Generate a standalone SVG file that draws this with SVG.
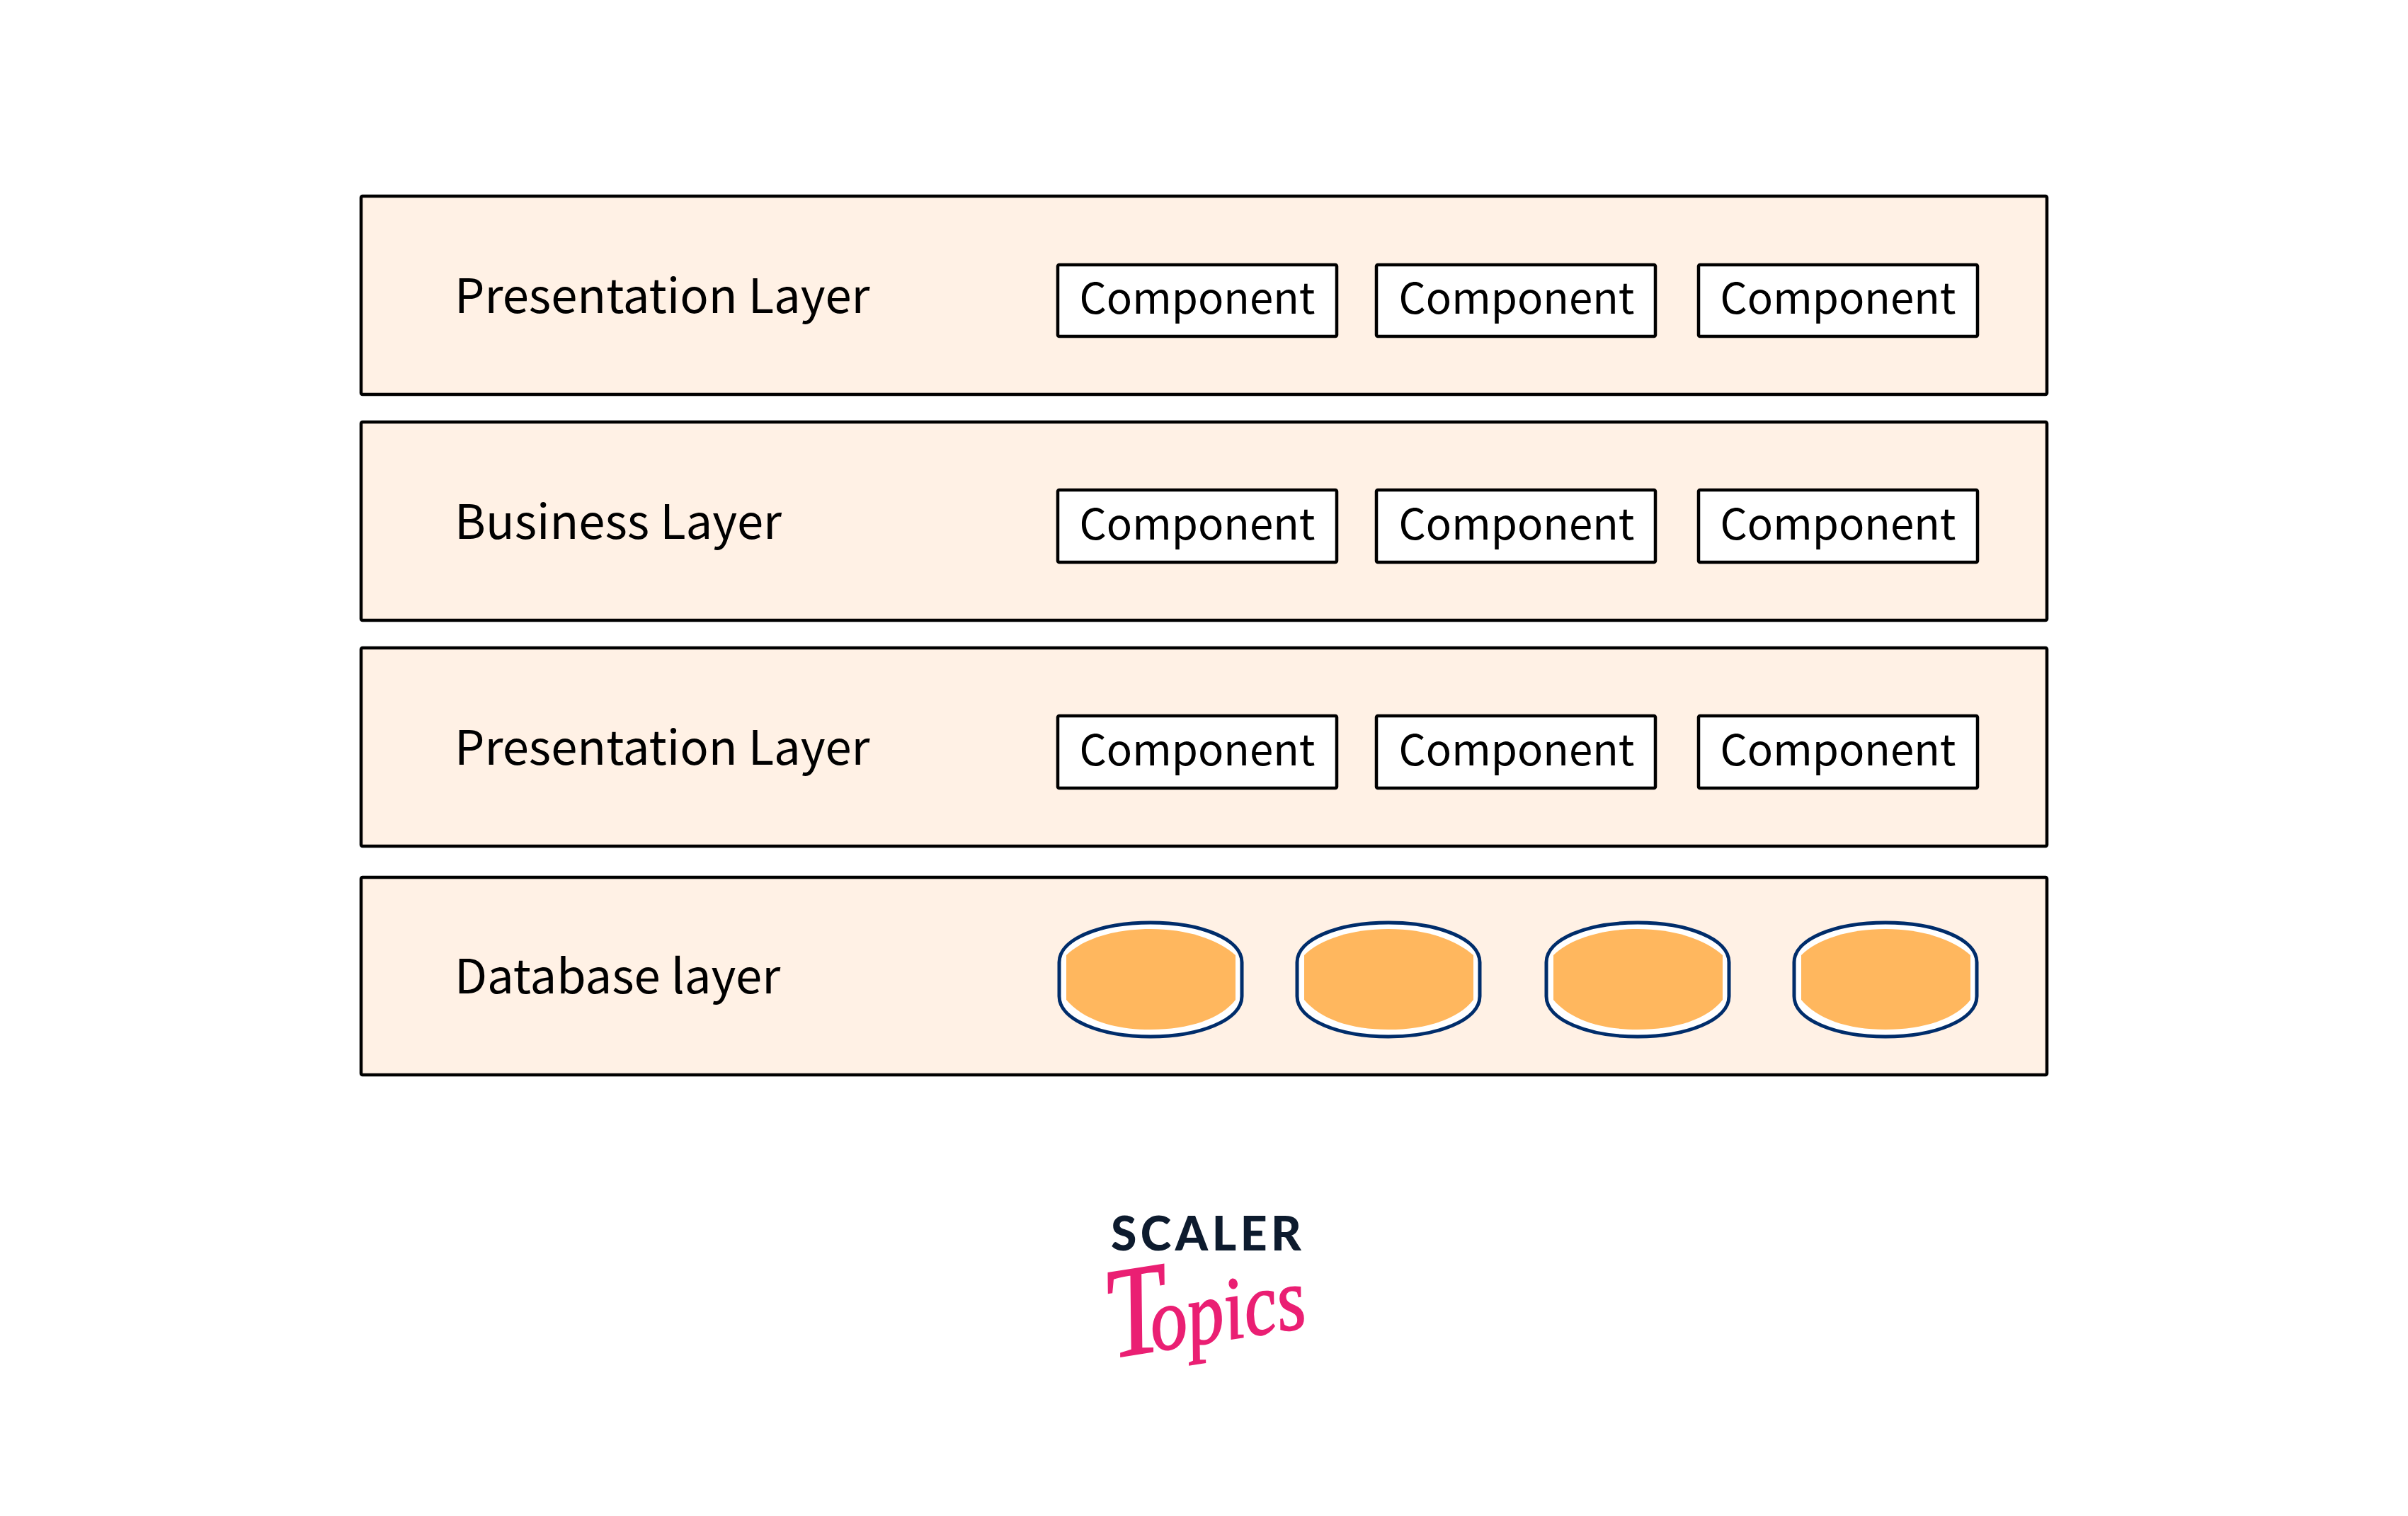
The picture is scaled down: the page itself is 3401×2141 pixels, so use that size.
<svg xmlns="http://www.w3.org/2000/svg" width="3401" height="2141" viewBox="0 0 3401 2141">
<style>
.layer{fill:#fff1e5;stroke:#000;stroke-width:4.5}
.comp{fill:#fff;stroke:#000;stroke-width:4.5}
text{font-family:"Noto Sans CJK SC","Noto Sans",sans-serif;fill:#000}
.lt{font-size:67px}
.ct{font-size:60px;text-anchor:middle}
.db-o{fill:#fff;stroke:#002d6b;stroke-width:5}
.db-i{fill:#ffb75e}
</style>
<defs>
<g id="db">
<path class="db-o" d="M2 58C2 25 60 2 131 2S260 25 260 58V106C260 140 200 163 131 163S2 140 2 106Z"/>
<path class="db-i" d="M12 48C35 25 80 11 131 11S225 25 251 48V111C230 138 185 153 131 153S35 138 12 111Z"/>
</g>
</defs>
<rect width="3401" height="2141" fill="#fff"/>
<g id="layer1"><rect class="layer" x="510" y="277" width="2381" height="280" rx="2"/><text class="lt" x="642" y="442">Presentation Layer</text></g>
<g id="layer2"><rect class="layer" x="510" y="596" width="2381" height="280" rx="2"/><text class="lt" x="642" y="761">Business Layer</text></g>
<g id="layer3"><rect class="layer" x="510" y="915" width="2381" height="280" rx="2"/><text class="lt" x="642" y="1080">Presentation Layer</text></g>
<g id="layer4"><rect class="layer" x="510" y="1239" width="2381" height="279" rx="2"/><text class="lt" x="642" y="1403">Database layer</text></g>
<g id="c11"><rect class="comp" x="1494" y="374" width="394" height="101" rx="2"/><text class="ct" x="1691" y="443">Component</text></g>
<g id="c12"><rect class="comp" x="1944" y="374" width="394" height="101" rx="2"/><text class="ct" x="2142" y="443">Component</text></g>
<g id="c13"><rect class="comp" x="2399" y="374" width="394" height="101" rx="2"/><text class="ct" x="2596" y="443">Component</text></g>
<g id="c21"><rect class="comp" x="1494" y="692" width="394" height="102" rx="2"/><text class="ct" x="1691" y="762">Component</text></g>
<g id="c22"><rect class="comp" x="1944" y="692" width="394" height="102" rx="2"/><text class="ct" x="2142" y="762">Component</text></g>
<g id="c23"><rect class="comp" x="2399" y="692" width="394" height="102" rx="2"/><text class="ct" x="2596" y="762">Component</text></g>
<g id="c31"><rect class="comp" x="1494" y="1011" width="394" height="102" rx="2"/><text class="ct" x="1691" y="1081">Component</text></g>
<g id="c32"><rect class="comp" x="1944" y="1011" width="394" height="102" rx="2"/><text class="ct" x="2142" y="1081">Component</text></g>
<g id="c33"><rect class="comp" x="2399" y="1011" width="394" height="102" rx="2"/><text class="ct" x="2596" y="1081">Component</text></g>
<use id="db1" href="#db" x="1494" y="1301"/>
<use id="db2" href="#db" x="1830" y="1301"/>
<use id="db3" href="#db" x="2182" y="1301"/>
<use id="db4" href="#db" x="2532" y="1301"/>
<g id="connectors"/>
<g id="logo">
<text x="1569" y="1766" style="font-family:'Lato',sans-serif;font-weight:900;font-size:66px;letter-spacing:5.5px;fill:#0d1b2e">SCALER</text>
<text transform="translate(1570 1918) rotate(-9) scale(1 1.2)" style="font-family:'Liberation Serif',serif;font-style:italic;fill:#ea1f73;stroke:#ea1f73;stroke-width:1.5"><tspan font-size="152">T</tspan><tspan font-size="105" dx="-24">opics</tspan></text>
</g>
</svg>
